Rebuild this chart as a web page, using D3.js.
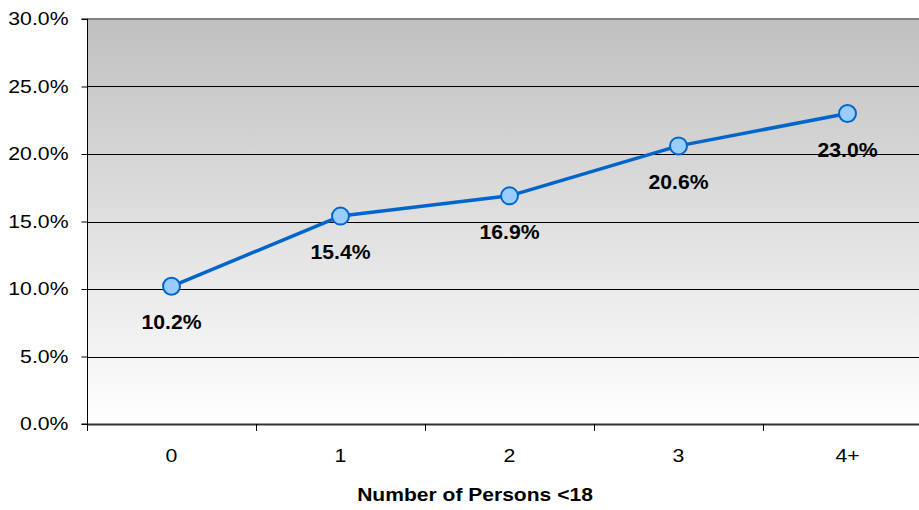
<!DOCTYPE html>
<html>
<head>
<meta charset="utf-8">
<script src="https://cdn.jsdelivr.net/npm/d3@7/dist/d3.min.js"></script>
<style>
  html, body { margin: 0; padding: 0; background: #ffffff; }
  svg { display: block; font-family: Arial, "Liberation Sans", sans-serif; }
</style>
</head>
<body>
<svg id="chart" width="919" height="510"></svg>
<script>
// Share by number of persons under 18 in the household
const categories = ["0", "1", "2", "3", "4+"];
const values = [10.2, 15.4, 16.9, 20.6, 23.0];
const yTicks = [0, 5, 10, 15, 20, 25, 30];
const xTitle = "Number of Persons <18";

const svg = d3.select("#chart");
const margin = { left: 87, top: 19, right: -13, bottom: 86 };
const W = 919, H = 510;
const plotW = W - margin.left - margin.right;
const plotH = H - margin.top - margin.bottom;
const SX = 1.18; // horizontal widening of the text glyphs

const x = d3.scaleBand().domain(categories).range([0, plotW]).padding(0);
const y = d3.scaleLinear().domain([0, 30]).range([plotH, 0]);

// Draws text widened horizontally around its anchor point
function wideText(sel, px, py, sx) {
  sel.attr("x", 0).attr("y", 0)
    .attr("transform", (d, i) => `translate(${px(d, i)},${py(d, i)}) scale(${sx},1)`);
}

const defs = svg.append("defs");
const grad = defs.append("linearGradient")
  .attr("id", "bg").attr("x1", 0).attr("y1", 0).attr("x2", 0).attr("y2", 1);
grad.append("stop").attr("offset", "0%").attr("stop-color", "#c0c0c0");
grad.append("stop").attr("offset", "100%").attr("stop-color", "#ffffff");

const g = svg.append("g").attr("transform", `translate(${margin.left},${margin.top})`);

// Plot background
g.append("rect").attr("x", 0).attr("y", 0).attr("width", plotW).attr("height", plotH)
  .attr("fill", "url(#bg)");

// Horizontal gridlines
g.append("g").selectAll("line").data(yTicks.filter(t => t > 0 && t < 30)).join("line")
  .attr("x1", 0).attr("x2", plotW)
  .attr("y1", d => Math.round(y(d)) + 0.5).attr("y2", d => Math.round(y(d)) + 0.5)
  .attr("stroke", "#000").attr("stroke-width", 1);

// Top border
g.append("line").attr("x1", 0).attr("x2", plotW).attr("y1", 0).attr("y2", 0)
  .attr("stroke", "#808080").attr("stroke-width", 2);

// Y axis
const yAxis = d3.axisLeft(y).tickValues(yTicks).tickSize(6).tickPadding(13)
  .tickFormat(d => d.toFixed(1) + "%");
const ya = g.append("g").attr("transform", "translate(0.5,0)").call(yAxis);
ya.select(".domain").attr("stroke", "#000").attr("d", `M-6,${plotH}H0V0H-6`);
ya.selectAll(".tick line").attr("stroke", "#000");
ya.selectAll(".tick text").attr("font-size", 18).attr("fill", "#000")
  .attr("font-family", "Arial, 'Liberation Sans', sans-serif")
  .attr("x", -19 / SX).attr("transform", `scale(${SX},1)`);

// X axis with ticks at category boundaries
const xa = g.append("g").attr("transform", `translate(0,${plotH})`);
xa.append("line").attr("x1", 0).attr("x2", plotW).attr("y1", 0.5).attr("y2", 0.5)
  .attr("stroke", "#333").attr("stroke-width", 2);
const bounds = categories.map(c => x(c)).concat([plotW]);
xa.selectAll("line.tk").data(bounds).join("line").attr("class", "tk")
  .attr("x1", d => Math.round(d) + 0.5).attr("x2", d => Math.round(d) + 0.5)
  .attr("y1", 0).attr("y2", 7).attr("stroke", "#000");
xa.selectAll("text").data(categories).join("text")
  .attr("text-anchor", "middle").attr("font-size", 18).attr("fill", "#000")
  .text(d => d)
  .call(wideText, d => x(d) + x.bandwidth() / 2, () => 38, SX);

// Line
const line = d3.line().x((d, i) => x(categories[i]) + x.bandwidth() / 2).y(d => y(d));
g.append("path").datum(values).attr("d", line)
  .attr("fill", "none").attr("stroke", "#0066cc").attr("stroke-width", 3.5)
  .attr("stroke-linejoin", "round");

// Markers
g.selectAll("circle.pt").data(values).join("circle").attr("class", "pt")
  .attr("cx", (d, i) => x(categories[i]) + x.bandwidth() / 2).attr("cy", d => y(d))
  .attr("r", 8.5).attr("fill", "#99ccff").attr("stroke", "#0066cc").attr("stroke-width", 2);

// Value labels
g.selectAll("text.val").data(values).join("text").attr("class", "val")
  .attr("text-anchor", "middle").attr("font-size", 20).attr("font-weight", "bold")
  .attr("fill", "#000").text(d => d.toFixed(1) + "%")
  .call(wideText, (d, i) => x(categories[i]) + x.bandwidth() / 2, d => y(d) + 43, 1.06);

// Axis title
svg.append("text").attr("text-anchor", "middle")
  .attr("font-size", 18).attr("font-weight", "bold").attr("fill", "#000").text(xTitle)
  .call(wideText, () => 475, () => 501, 1.17);
</script>
</body>
</html>
